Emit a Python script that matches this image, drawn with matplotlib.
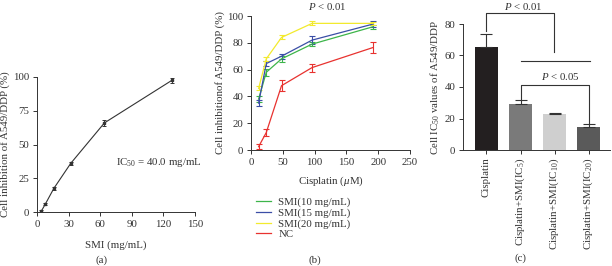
import matplotlib as mpl
import matplotlib.pyplot as plt
import numpy as np

# (a) SMI dose-response
smi_conc = [4, 8, 16, 32, 64, 128]
smi_inhib = [0.5, 6, 17.5, 36, 66, 97.5]
smi_err = [0.8, 1.0, 1.0, 1.2, 2.2, 2.0]

# (b) cisplatin dose-response
cis_conc = [12, 24, 48, 96, 192]
inhib_smi10 = [38, 58, 68, 79, 92]
err_smi10 = [2, 2.5, 2, 1.5, 1.5]
inhib_smi15 = [35, 64.5, 70, 82, 94]
err_smi15 = [2, 2, 2, 3, 2]
inhib_smi20 = [46, 68, 84, 94.5, 94.5]
err_smi20 = [1.5, 1.5, 1.5, 1.5, 1]
inhib_nc = [2.5, 13, 48, 61.5, 76.5]
err_nc = [2, 2.5, 4, 3, 4]

series_labels = ['SMI(10 mg/mL)', 'SMI(15 mg/mL)', 'SMI(20 mg/mL)', 'NC']
series_colors = ['#3db54a', '#3b4ea6', '#f2ea2e', '#e8322f']

# (c) IC50 values
groups = ['Cisplatin', 'Cisplatin+SMI(IC$_5$)', 'Cisplatin+SMI(IC$_{10}$)',
          'Cisplatin+SMI(IC$_{20}$)']
ic50 = [65.6, 29, 22.6, 14.8]
ic50_err = [8, 2.7, 0.8, 1.7]
bar_colors = ['#231f20', '#7a7a7a', '#cfcfcf', '#5a5a5a']

fs = 7.8
style = {
    'font.family': ['Liberation Serif', 'DejaVu Serif'],
    'font.size': fs,
    'axes.linewidth': 0.7,
    'xtick.major.width': 0.7,
    'ytick.major.width': 0.7,
    'xtick.major.size': 3,
    'ytick.major.size': 3,
    'xtick.major.pad': 2.5,
    'ytick.major.pad': 2.5,
    'xtick.labelsize': fs,
    'ytick.labelsize': fs,
    'axes.labelsize': fs,
    'axes.spines.top': False,
    'axes.spines.right': False,
    'text.color': '#333333',
    'axes.labelcolor': '#333333',
    'xtick.color': '#333333',
    'ytick.color': '#333333',
    'axes.edgecolor': '#333333',
    'mathtext.fontset': 'custom',
    'mathtext.rm': 'Liberation Serif',
    'mathtext.it': 'Liberation Serif:italic',
}
for k, v in style.items():
    mpl.rcParams[k] = v

W, H = 612, 266
fig = plt.figure(figsize=(W / 100, H / 100), dpi=100)


def axes_px(l, t, r, b):
    return fig.add_axes([l / W, 1 - b / H, (r - l) / W, (b - t) / H])


# ---- (a)
ax_a = axes_px(37, 77, 195, 212)
ax_a.errorbar(smi_conc, smi_inhib, yerr=smi_err, color='#333333', lw=0.8,
              marker='s', ms=2.0, elinewidth=0.7, capsize=1.5, capthick=0.7)
ax_a.set_xlim(0, 150)
ax_a.set_ylim(0, 100)
ax_a.set_xticks(np.arange(0, 151, 30))
ax_a.set_yticks(np.arange(0, 101, 25))
ax_a.set_xlabel('SMI (mg/mL)')
ax_a.xaxis.set_label_coords(0.5, -0.21)
ax_a.set_ylabel('Cell inhibition of A549/DDP (%)')
ax_a.yaxis.set_label_coords(-0.171, 0.5)
ax_a.text(75, 37, 'IC$_{50}$ = 40.0 mg/mL', fontsize=fs, va='center')
fig.text(102 / W, 1 - 260 / H, '(a)', ha='center', va='center')

# ---- (b)
ax_b = axes_px(251, 16, 410, 150)
ys = [inhib_smi10, inhib_smi15, inhib_smi20, inhib_nc]
es = [err_smi10, err_smi15, err_smi20, err_nc]
handles = []
for y, e, c, lab in zip(ys, es, series_colors, series_labels):
    ax_b.errorbar(cis_conc, y, yerr=e, color=c, lw=0.9, elinewidth=0.8,
                  capsize=2, capthick=0.8)
    handles.append(mpl.lines.Line2D([], [], color=c, lw=0.9, label=lab))
ax_b.set_xlim(0, 250)
ax_b.set_ylim(0, 100)
ax_b.set_xticks(np.arange(0, 251, 50))
ax_b.set_yticks(np.arange(0, 101, 20))
ax_b.set_xlabel(r'Cisplatin ($\mu$M)')
ax_b.xaxis.set_label_coords(0.5, -0.18)
ax_b.set_ylabel('Cell inhibitionof A549/DDP (%)')
ax_b.yaxis.set_label_coords(-0.163, 0.5)
fig.text(327 / W, 1 - 7 / H, '$P$ < 0.01', ha='center', va='center')
fig.legend(handles=handles, loc='upper left',
           bbox_to_anchor=(248 / W, 1 - 190 / H), frameon=False,
           handlelength=1.4, handletextpad=0.7, labelspacing=0.08,
           fontsize=fs, borderpad=0.2)
fig.text(315 / W, 1 - 260 / H, '(b)', ha='center', va='center')

# ---- (c)
ax_c = axes_px(463, 24, 610, 150)
x = np.arange(len(groups))
ax_c.bar(x, ic50, width=0.68, color=bar_colors,
         yerr=[np.zeros(len(ic50)), ic50_err],
         error_kw=dict(elinewidth=0.8, capsize=4, capthick=0.8,
                       ecolor='#333333'))
ax_c.set_xlim(-0.69, 3.63)
ax_c.set_ylim(0, 80)
ax_c.set_yticks(np.arange(0, 81, 20))
ax_c.set_xticks(x)
ax_c.set_xticklabels(groups, rotation=90)
ax_c.set_ylabel('Cell IC$_{50}$ values of A549/DDP')
ax_c.yaxis.set_label_coords(-0.143, 0.5)

lk = dict(color='#333333', lw=0.8, clip_on=False)
# upper bracket
ax_c.plot([0, 0, 1.97, 1.97], [75.5, 87, 87, 62], **lk)
ax_c.plot([1, 3.05], [56.5, 56.5], **lk)
fig.text(523 / W, 1 - 6 / H, '$P$ < 0.01', ha='center', va='center')
# lower bracket
ax_c.plot([1, 1, 3, 3], [32.5, 41.5, 41.5, 17], **lk)
fig.text(560 / W, 1 - 76 / H, '$P$ < 0.05', ha='center', va='center')
fig.text(520 / W, 1 - 258 / H, '(c)', ha='center', va='center')

fig.savefig('out.png', dpi=100)
